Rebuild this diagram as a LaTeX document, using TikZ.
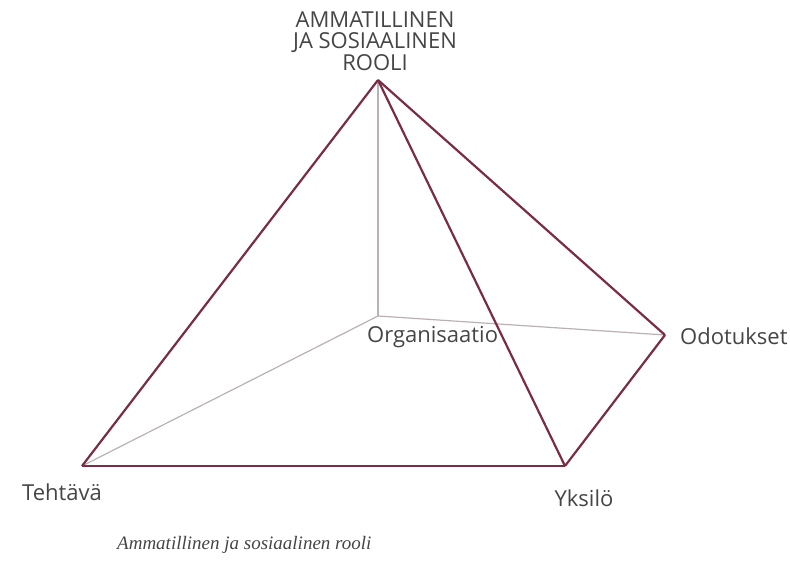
\documentclass[tikz,border=0pt]{standalone}
\usepackage{fontspec}
\setsansfont{Open Sans}
\setmainfont{Liberation Serif}
\definecolor{roolired}{HTML}{7A2C44}
\definecolor{piilogrey}{HTML}{BBB1B5}
\definecolor{tekstigrey}{HTML}{454545}
\begin{document}
\begin{tikzpicture}[x=1pt,y=-1pt,
  reuna/.style={draw=roolired,line width=2.2pt,line join=round},
  piilo/.style={draw=piilogrey,line width=1.2pt},
  nimi/.style={font=\sffamily\fontsize{22}{21.5}\selectfont,text=tekstigrey,inner sep=0pt}]
\useasboundingbox (0,0) rectangle (790,576);
% kulmat
\coordinate (R) at (378,80);
\coordinate (O) at (378,316);
\coordinate (D) at (665,335);
\coordinate (T) at (82,466);
\coordinate (Y) at (565,466);
% piilossa olevat sarmat
\path
  (R) edge[piilo] (O)
  (O) edge[piilo] (T)
  (O) edge[piilo] (D)
;
\path
  (R) edge[reuna] (T)
  (R) edge[reuna] (Y)
  (R) edge[reuna] (D)
  (T) edge[reuna] (Y)
  (Y) edge[reuna] (D)
;
\node[nimi,align=center] (rooli) at (375,41) {AMMATILLINEN\\JA SOSIAALINEN\\ROOLI};
\node[nimi,anchor=west] (org) at (367,337) {Organisaatio};
\node[nimi,anchor=west] (odo) at (680,336) {Odotukset};
\node[nimi] (teh) at (62,492) {Tehtävä};
\node[nimi] (yks) at (584,498) {Yksilö};
\node[font=\itshape\fontsize{19}{21}\selectfont,text=tekstigrey,anchor=west,inner sep=0pt] (otsikko) at (117,545) {Ammatillinen ja sosiaalinen rooli};
\end{tikzpicture}
\end{document}
